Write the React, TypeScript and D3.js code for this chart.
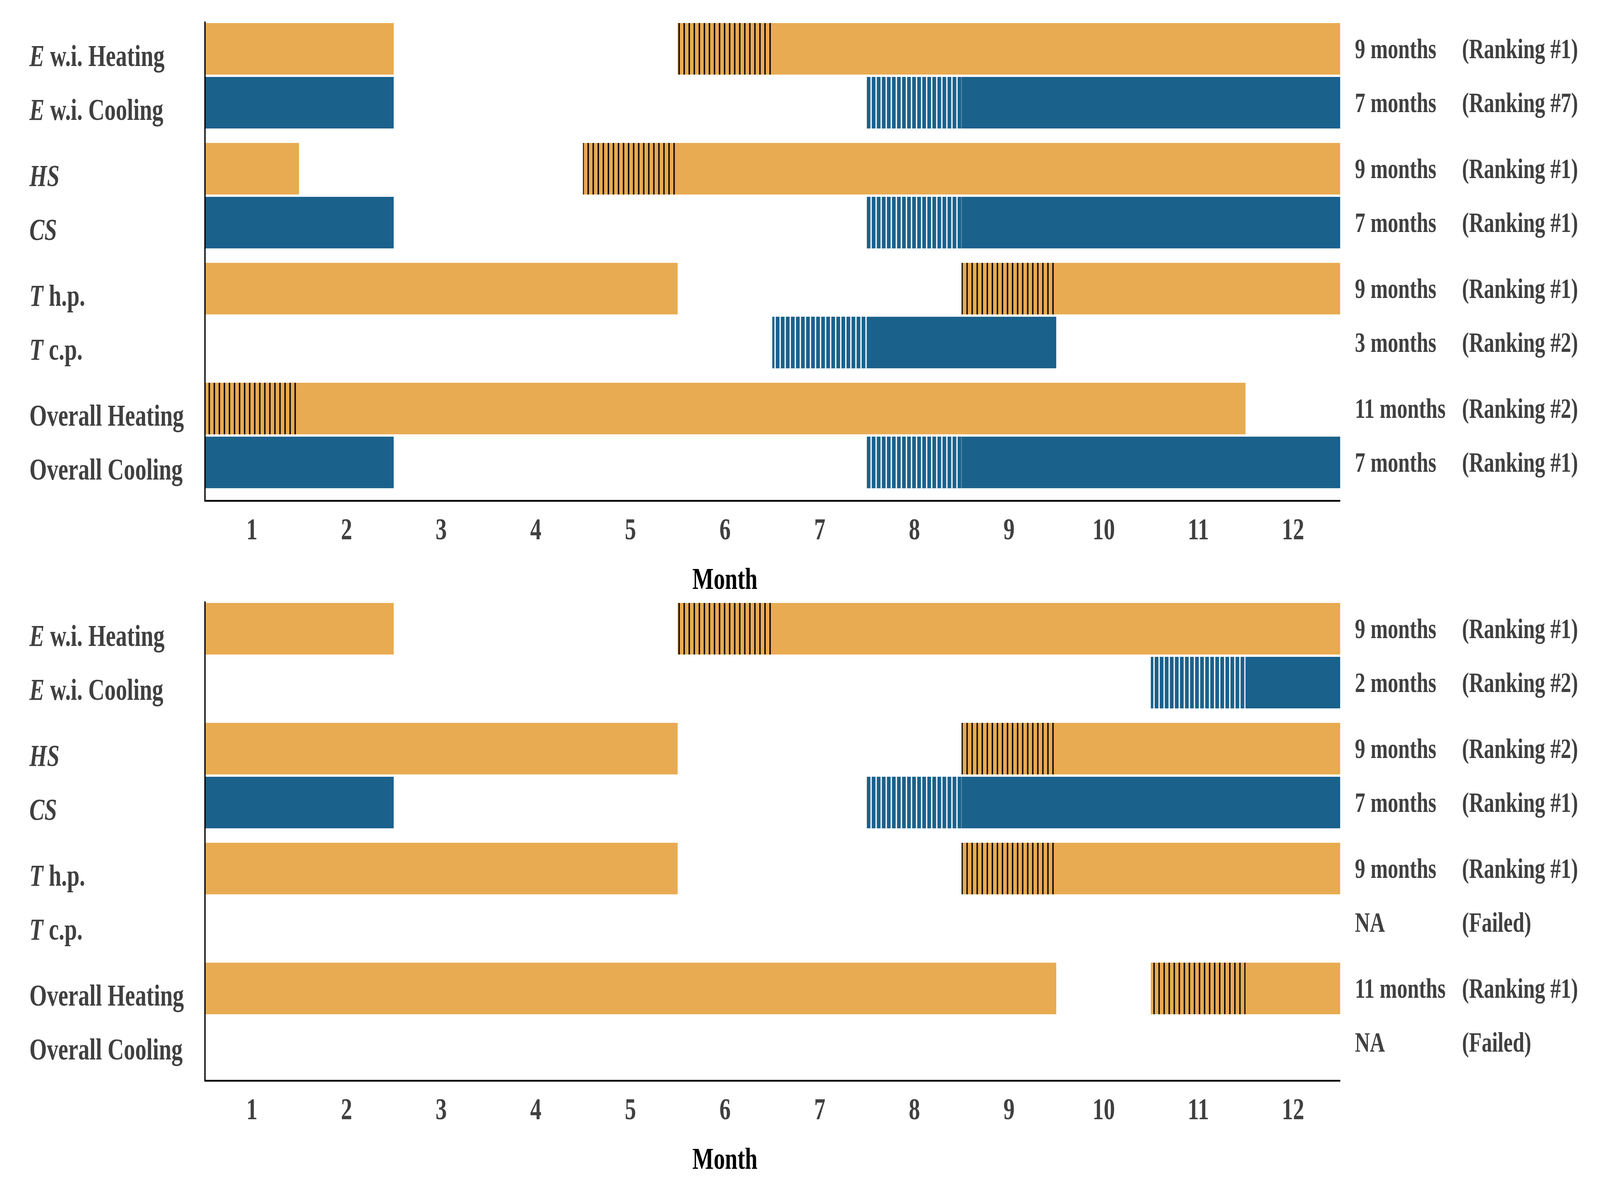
import * as d3 from 'd3';
import { useRef, useEffect } from 'react';

// rows: heating / cooling pairs
const labelItalic = ["E", "E", "HS", "CS", "T", "T", "", ""];
const labelRest = [" w.i. Heating", " w.i. Cooling", "", "", " h.p.", " c.p.", "Overall Heating", "Overall Cooling"];
const months = [1, 2, 3, 4, 5, 6, 7, 8, 9, 10, 11, 12];

// top panel
const topActive: number[][] = [
	[1, 2, 6, 7, 8, 9, 10, 11, 12],
	[1, 2, 8, 9, 10, 11, 12],
	[1, 5, 6, 7, 8, 9, 10, 11, 12],
	[1, 2, 8, 9, 10, 11, 12],
	[1, 2, 3, 4, 5, 9, 10, 11, 12],
	[7, 8, 9],
	[1, 2, 3, 4, 5, 6, 7, 8, 9, 10, 11],
	[1, 2, 8, 9, 10, 11, 12],
];
const topStart = [6, 8, 5, 8, 9, 7, 1, 8];
const topDuration = ["9 months", "7 months", "9 months", "7 months", "9 months", "3 months", "11 months", "7 months"];
const topRanking = ["(Ranking #1)", "(Ranking #7)", "(Ranking #1)", "(Ranking #1)", "(Ranking #1)", "(Ranking #2)", "(Ranking #2)", "(Ranking #1)"];

// bottom panel
const bottomActive: number[][] = [
	[1, 2, 6, 7, 8, 9, 10, 11, 12],
	[11, 12],
	[1, 2, 3, 4, 5, 9, 10, 11, 12],
	[1, 2, 8, 9, 10, 11, 12],
	[1, 2, 3, 4, 5, 9, 10, 11, 12],
	[],
	[1, 2, 3, 4, 5, 6, 7, 8, 9, 11, 12],
	[],
];
const bottomStart = [6, 11, 9, 8, 9, null, 11, null];
const bottomDuration = ["9 months", "2 months", "9 months", "7 months", "9 months", "NA", "11 months", "NA"];
const bottomRanking = ["(Ranking #1)", "(Ranking #2)", "(Ranking #2)", "(Ranking #1)", "(Ranking #1)", "(Failed)", "(Ranking #1)", "(Failed)"];

const ORANGE = "#E8AB52";
const BLUE = "#1A618C";
const TEXT = "#404040";
const FONT = "'Liberation Serif', 'Times New Roman', serif";

const toRuns = (arr: number[]) => {
	const runs: [number, number][] = [];
	arr.forEach(m => {
		const last = runs[runs.length - 1];
		if (last && last[1] === m - 1) last[1] = m;
		else runs.push([m, m]);
	});
	return runs;
};

const App = () => {
	const width = 5542;
	const height = 3037;
	const ref: any = useRef();

	useEffect(() => {
		const svg = d3.select(ref.current);
		svg.selectAll("*").remove();

		const x = d3.scaleLinear().domain([0.5, 12.5]).range([708, 4642]);
		// row position in units of row offset, pairs spaced further apart
		const y = d3.scaleLinear().domain([0, 1]).range([59, 197]);
		const rowPos = (i: number) => Math.floor(i / 2) * 2.225 + (i % 2);
		const barH = 132;

		const defs = svg.append("defs");
		const hatch = (id: string, bg: string, fg: string, w: number) => {
			const p = defs.append("pattern")
				.attr("id", id)
				.attr("patternUnits", "userSpaceOnUse")
				.attr("width", 17.5)
				.attr("height", 20);
			p.append("rect").attr("width", 17.5).attr("height", 20).attr("fill", bg);
			p.append("rect").attr("x", 5).attr("width", w).attr("height", 20).attr("fill", fg);
		};
		hatch("hatchHeat", ORANGE, "#000", 4.7);
		hatch("hatchCool", BLUE, "#fff", 4.5);

		const panels = [
			{ offset: 0, active: topActive, start: topStart, dur: topDuration, rank: topRanking },
			{ offset: 1485, active: bottomActive, start: bottomStart, dur: bottomDuration, rank: bottomRanking },
		];

		panels.forEach(panel => {
			const g = svg.append("g").attr("transform", "translate(0," + panel.offset + ")");

			panel.active.forEach((act, i) => {
				const top = y(rowPos(i));
				const heat = i % 2 === 0;
				toRuns(act).forEach(r => {
					g.append("rect")
						.attr("x", x(r[0] - 0.5))
						.attr("y", top)
						.attr("width", x(r[1] + 0.5) - x(r[0] - 0.5))
						.attr("height", barH)
						.attr("fill", heat ? ORANGE : BLUE);
				});
				const s = panel.start[i];
				if (s != null) {
					g.append("rect")
						.attr("x", x(s - 0.5))
						.attr("y", top)
						.attr("width", x(s + 0.5) - x(s - 0.5))
						.attr("height", barH)
						.attr("fill", heat ? "url(#hatchHeat)" : "url(#hatchCool)");
				}

				const mid = top + barH / 2;
				const lab = g.append("text")
					.attr("x", 102)
					.attr("y", mid + 44)
					.attr("font-family", FONT)
					.attr("font-weight", "bold")
					.attr("font-size", 78)
					.attr("fill", TEXT);
				if (labelItalic[i]) lab.append("tspan").attr("font-style", "italic").text(labelItalic[i]);
				if (labelRest[i]) lab.append("tspan").attr("xml:space", "preserve").text(labelRest[i]);

				g.append("text")
					.attr("x", 4693)
					.attr("y", mid + 24)
					.attr("font-family", FONT)
					.attr("font-weight", "bold")
					.attr("font-size", 72)
					.attr("fill", TEXT)
					.text(panel.dur[i]);
				g.append("text")
					.attr("x", 5064)
					.attr("y", mid + 24)
					.attr("font-family", FONT)
					.attr("font-weight", "bold")
					.attr("font-size", 72)
					.attr("fill", TEXT)
					.text(panel.rank[i]);
			});

			// axes
			const xAxis = g.append("g")
				.attr("transform", "translate(0,1282)")
				.call(d3.axisBottom(x).tickValues(months).tickSize(0).tickSizeOuter(0).tickFormat(d3.format("d")));
			xAxis.select(".domain").attr("stroke", "#000").attr("stroke-width", 4.5);
			xAxis.selectAll("text")
				.attr("dy", null)
				.attr("y", 99)
				.attr("font-family", FONT)
				.attr("font-weight", "bold")
				.attr("font-size", 78)
				.attr("fill", TEXT);

			g.append("line")
				.attr("x1", 710).attr("x2", 710)
				.attr("y1", 55).attr("y2", 1284)
				.attr("stroke", "#000")
				.attr("stroke-width", 4.5);

			g.append("text")
				.attr("x", x(6))
				.attr("y", 1508)
				.attr("text-anchor", "middle")
				.attr("font-family", FONT)
				.attr("font-weight", "bold")
				.attr("font-size", 78)
				.attr("fill", "#000")
				.text("Month");
		});
	}, []);

	// the window is narrower than the chart, so stretch it over the whole viewport
	return (
		<svg ref={ref} viewBox={`0 0 ${width} ${height}`} preserveAspectRatio="none"
			style={{ position: "absolute", left: 0, top: 0, width: "100vw", height: "100vh", background: "#fff", display: "block" }}>
		</svg>
	);
};

export default App;
